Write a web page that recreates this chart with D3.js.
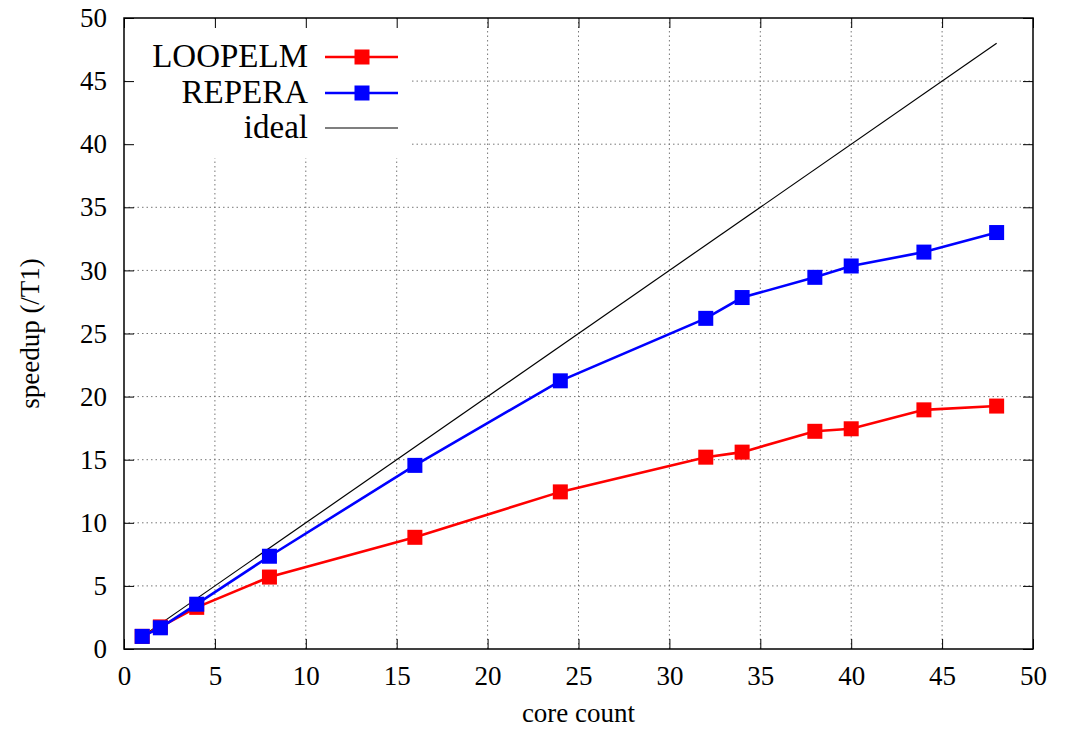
<!DOCTYPE html>
<html><head><meta charset="utf-8">
<script src="https://cdn.jsdelivr.net/npm/d3@7"></script>
<style>body{margin:0;background:#fff}svg text{font-family:"Liberation Serif","Times New Roman",serif !important;fill:#000}</style>
</head><body>
<svg id="c" width="1070" height="729"></svg>
<script>
const cores = [1, 2, 4, 8, 16, 24, 32, 34, 38, 40, 44, 48];
const loopelm = [1.0, 1.75, 3.3, 5.7, 8.85, 12.45, 15.2, 15.6, 17.25, 17.45, 18.95, 19.25];
const repera = [1.0, 1.68, 3.55, 7.35, 14.55, 21.25, 26.2, 27.85, 29.45, 30.35, 31.45, 33.0];
const idealX = [1, 48];
const xTicks = [0, 5, 10, 15, 20, 25, 30, 35, 40, 45, 50];
const yTicks = [0, 5, 10, 15, 20, 25, 30, 35, 40, 45, 50];
const seriesNames = ["LOOPELM", "REPERA", "ideal"];
const seriesColors = ["#ff0000", "#0000ff", "#000000"];

const svg = d3.select("#c");
const L = 124, R = 1033, T = 18, B = 649;
const x = d3.scaleLinear().domain([0, 50]).range([L, R]);
const y = d3.scaleLinear().domain([0, 50]).range([B, T]);

// grid
const g = svg.append("g");
g.selectAll(".gx").data(xTicks.slice(1, -1)).enter().append("line")
  .attr("x1", d => x(d)).attr("x2", d => x(d)).attr("y1", B).attr("y2", T)
  .attr("stroke", "#777").attr("stroke-width", 1).attr("stroke-dasharray", "1.5,3");
g.selectAll(".gy").data(yTicks.slice(1, -1)).enter().append("line")
  .attr("x1", L).attr("x2", R).attr("y1", d => y(d)).attr("y2", d => y(d))
  .attr("stroke", "#777").attr("stroke-width", 1).attr("stroke-dasharray", "1.5,3");

// legend background
svg.append("rect").attr("x", 126).attr("y", 20).attr("width", 286).attr("height", 138).attr("fill", "#fff");

// axes
const axB = d3.axisBottom(x).tickValues(xTicks).tickSize(-10).tickPadding(17);
const axT = d3.axisTop(x).tickValues(xTicks).tickSize(-10).tickFormat("");
const axL = d3.axisLeft(y).tickValues(yTicks).tickSize(-10).tickPadding(17);
const axR = d3.axisRight(y).tickValues(yTicks).tickSize(-10).tickFormat("");
function style(sel){ sel.attr("font-family", null); sel.select(".domain").remove();
  sel.selectAll("line").attr("stroke","#000").attr("stroke-width",1);
  sel.selectAll("text").attr("font-size", 27).style("font-family", '"Liberation Serif", serif'); }
svg.append("g").attr("transform", `translate(0,${B})`).call(axB).call(style);
svg.append("g").attr("transform", `translate(0,${T})`).call(axT).call(style);
svg.append("g").attr("transform", `translate(${L},0)`).call(axL).call(style);
svg.append("g").attr("transform", `translate(${R},0)`).call(axR).call(style);
svg.append("rect").attr("x", L).attr("y", T).attr("width", R - L).attr("height", B - T)
  .attr("fill", "none").attr("stroke", "#000").attr("stroke-width", 1.5);

// labels
svg.append("text").attr("x", (L + R) / 2).attr("y", 722).attr("text-anchor", "middle").attr("font-size", 27).text("core count");
svg.append("text").attr("transform", `translate(39,${(T + B) / 2}) rotate(-90)`).attr("text-anchor", "middle").attr("font-size", 27).text("speedup (/T1)");

// series
const line = d3.line().x(d => x(d[0])).y(d => y(d[1]));
svg.append("path").datum(idealX.map(v => [v, v])).attr("d", line).attr("fill", "none").attr("stroke", "#000").attr("stroke-width", 1.2);
[[loopelm, seriesColors[0]], [repera, seriesColors[1]]].forEach(([vals, col]) => {
  const pts = cores.map((c, i) => [c, vals[i]]);
  svg.append("path").datum(pts).attr("d", line).attr("fill", "none").attr("stroke", col).attr("stroke-width", 2.6);
  svg.selectAll(null).data(pts).enter().append("rect")
    .attr("x", d => x(d[0]) - 7.5).attr("y", d => y(d[1]) - 7.5).attr("width", 15).attr("height", 15).attr("fill", col);
});

// legend
const ly = [57, 93, 128];
seriesNames.forEach((n, i) => {
  svg.append("text").attr("x", 308).attr("y", ly[i] + 10).attr("text-anchor", "end").attr("font-size", 33).text(n);
  svg.append("line").attr("x1", 325).attr("x2", 398).attr("y1", ly[i]).attr("y2", ly[i])
    .attr("stroke", seriesColors[i]).attr("stroke-width", i < 2 ? 2.6 : 1.2);
  if (i < 2) svg.append("rect").attr("x", 362 - 7.5).attr("y", ly[i] - 7.5).attr("width", 15).attr("height", 15).attr("fill", seriesColors[i]);
});
</script>
</body></html>
